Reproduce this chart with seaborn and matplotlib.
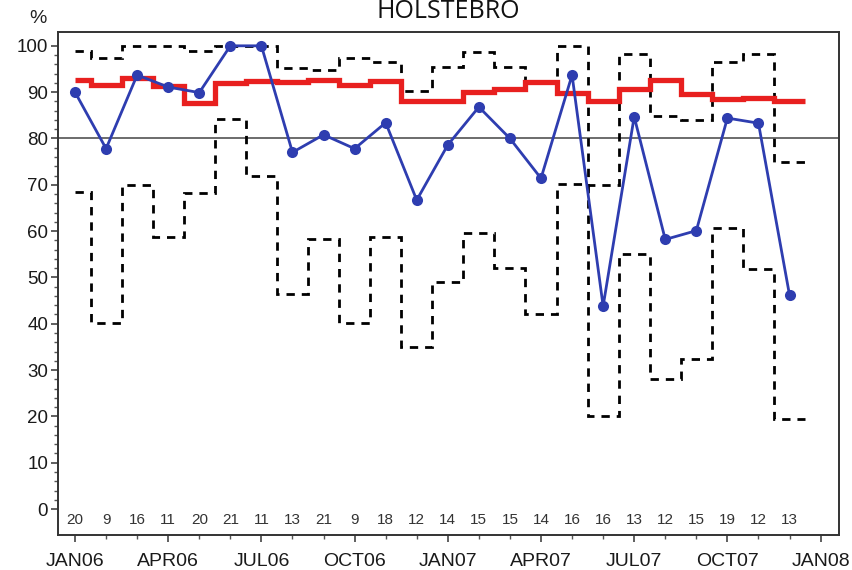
import numpy as np
import pandas as pd
import seaborn as sns
import matplotlib.pyplot as plt

# monthly data Jan06 .. Dec07
months = ['JAN06', 'FEB06', 'MAR06', 'APR06', 'MAY06', 'JUN06', 'JUL06', 'AUG06',
          'SEP06', 'OCT06', 'NOV06', 'DEC06', 'JAN07', 'FEB07', 'MAR07', 'APR07',
          'MAY07', 'JUN07', 'JUL07', 'AUG07', 'SEP07', 'OCT07', 'NOV07', 'DEC07']
observed = [90, 77.8, 93.7, 91.1, 89.9, 100, 100, 77.0, 80.8, 77.8, 83.4, 66.7,
            78.6, 86.8, 80.0, 71.4, 93.7, 43.8, 84.7, 58.2, 60.1, 84.4, 83.3, 46.2]
center = [92.6, 91.6, 93.0, 91.4, 87.6, 91.9, 92.4, 92.2, 92.6, 91.6, 92.4, 88.0,
          88.0, 90.0, 90.6, 92.2, 89.9, 88.0, 90.6, 92.6, 89.6, 88.5, 88.8, 88.0]
upper = [98.8, 97.3, 100, 100, 98.8, 100, 100, 95.2, 94.7, 97.3, 96.6, 90.3,
         95.5, 98.6, 95.5, 91.9, 100, 70.0, 98.2, 84.9, 83.9, 96.6, 98.2, 75.0]
lower = [68.5, 40.2, 70.0, 58.8, 68.3, 84.2, 71.8, 46.4, 58.2, 40.2, 58.7, 35.0,
         49.1, 59.5, 52.0, 42.0, 70.1, 20.0, 55.0, 28.0, 32.4, 60.6, 51.8, 19.5]
counts = [20, 9, 16, 11, 20, 21, 11, 13, 21, 9, 18, 12,
          14, 15, 15, 14, 16, 16, 13, 12, 15, 19, 12, 13]
target = 80
tick_labels = ['JAN06', 'APR06', 'JUL06', 'OCT06', 'JAN07', 'APR07', 'JUL07', 'OCT07', 'JAN08']

df = pd.DataFrame({'month': np.arange(len(months)), 'observed': observed})

sns.set_style('white')
plt.rcParams['font.family'] = ['Liberation Sans', 'DejaVu Sans']

fig = plt.figure(figsize=(8.52, 5.70), dpi=100)
ax = fig.add_axes([0.068, 0.0614, 0.917, 0.8826])

# step edges: first step starts at the first month, others centred on month
edges = np.concatenate([[0], np.arange(len(months)) + 0.5])
edges[-1] = len(months) - 0.5

ax.axhline(target, color='#444444', linewidth=1.1, zorder=1)
ax.stairs(upper, edges, baseline=None, color='black', linewidth=2.0,
          linestyle=(0, (3, 2.5)), zorder=2)
ax.stairs(lower, edges, baseline=None, color='black', linewidth=2.0,
          linestyle=(0, (3, 2.5)), zorder=2)
ax.stairs(center, edges, baseline=None, color='#e8201f', linewidth=3.8, zorder=3)

sns.lineplot(data=df, x='month', y='observed', ax=ax, color='#2e3db0',
             linewidth=2.0, marker='o', markersize=8, markeredgewidth=0, zorder=4)

for i, c in enumerate(counts):
    ax.text(i, -2.4, str(c), ha='center', va='center', fontsize=11, color='#333333')

ax.set_xlim(-0.55, 24.6)
ax.set_ylim(-5.6, 103)
ax.set_xticks(np.arange(0, 25, 3))
ax.set_xticklabels(tick_labels)
ax.set_xticks(np.arange(0, 25, 1), minor=True)
ax.set_yticks(np.arange(0, 101, 10))
ax.set_yticks(np.arange(0, 101, 2), minor=True)
ax.tick_params(axis='both', which='both', bottom=True, left=True, top=False, right=False)
ax.tick_params(axis='both', which='major', direction='out', length=5, width=1.2,
               color='#444444', labelcolor='#1a1a1a')
ax.tick_params(axis='both', which='minor', direction='out', length=3, width=1.0,
               color='#555555')
ax.tick_params(axis='y', which='major', labelsize=13.5, pad=2)
ax.tick_params(axis='x', which='major', labelsize=14, pad=8)
ax.set_xlabel('')
ax.set_ylabel('')

for side in ['left', 'right', 'top', 'bottom']:
    ax.spines[side].set_visible(True)
    ax.spines[side].set_color('#333333')
    ax.spines[side].set_linewidth(1.4)

fig.text(0.526, 0.9795, 'HOLSTEBRO', ha='center', va='center', fontsize=18,
         family=['Open Sans', 'DejaVu Sans'], color='#111111')
fig.text(0.045, 0.967, '%', ha='center', va='center', fontsize=14, color='#222222')

fig.savefig('out.png', dpi=100)
